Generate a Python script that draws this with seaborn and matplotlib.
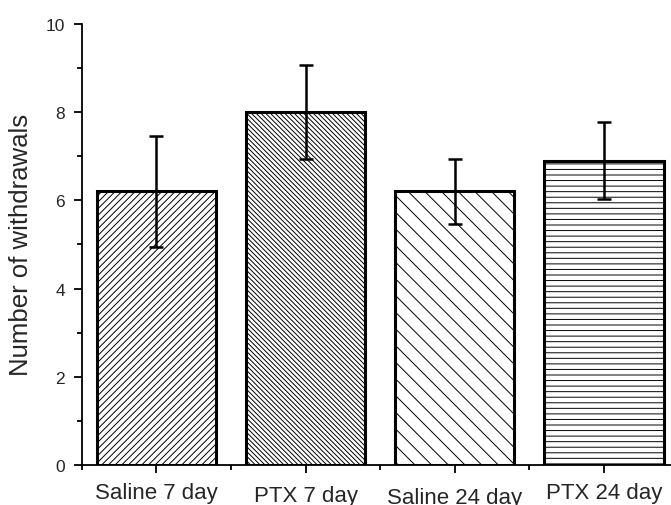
import matplotlib
matplotlib.use("Agg")
import matplotlib.pyplot as plt
import matplotlib.transforms as mtransforms
from matplotlib.ticker import MultipleLocator
import seaborn as sns
import pandas as pd

categories = ["Saline 7 day", "PTX 7 day", "Saline 24 day", "PTX 24 day"]
means = [6.2, 8.0, 6.2, 6.9]
errors = [1.25, 1.06, 0.74, 0.88]
hatches = ["/////", "\\" * 7, "\\\\", "---"]
label_drop = [0, 3, 5, 0]  # pixel offsets of the x labels

sns.set_theme(style="ticks")
plt.rcParams["font.family"] = ["Liberation Sans", "DejaVu Sans"]
plt.rcParams["hatch.linewidth"] = 0.7
plt.rcParams["hatch.color"] = "#5a5a5a"

df = pd.DataFrame({"group": categories, "value": means})

fig = plt.figure(figsize=(6.71, 5.06), dpi=100)
ax = fig.add_axes([0.122, 0.079, 0.878, 0.872])

sns.barplot(data=df, x="group", y="value", order=categories, errorbar=None,
            width=0.8, color="white", ax=ax, zorder=2)
for patch, h in zip(ax.patches, hatches):
    patch.set_facecolor("white")
    patch.set_edgecolor("black")
    patch.set_linewidth(2.2)
    patch.set_hatch(h)

ax.errorbar(x=list(range(len(categories))), y=means, yerr=errors, fmt="none",
            ecolor="black", elinewidth=1.8, capsize=5, capthick=1.8, zorder=3)

ax.set_xlim(-0.5, 3.45)
ax.set_ylim(0, 10)
ax.yaxis.set_major_locator(MultipleLocator(2))
ax.yaxis.set_minor_locator(MultipleLocator(1))
ax.set_xticks(range(len(categories)))
ax.set_xticks([-0.5, 0.5, 1.5, 2.5], minor=True)
ax.set_xticklabels(categories, fontsize=16)
ax.set_xlabel("")
ax.set_ylabel("Number of withdrawals", fontsize=18.5, labelpad=9)
ax.tick_params(axis="both", which="major", direction="out", length=6, width=1.3,
               color="black")
ax.tick_params(axis="both", which="minor", direction="out", length=3.5, width=1.3,
               color="black")
ax.tick_params(axis="y", labelsize=12.5, pad=6)
ax.tick_params(axis="x", pad=6)

for lab, d in zip(ax.get_xticklabels(), label_drop):
    lab.set_transform(lab.get_transform() +
                      mtransforms.ScaledTranslation(0, -d / 100, fig.dpi_scale_trans))

sns.despine(ax=ax)
for s in ["left", "bottom"]:
    ax.spines[s].set_linewidth(1.3)
    ax.spines[s].set_color("black")

fig.savefig("out.png", dpi=100)
